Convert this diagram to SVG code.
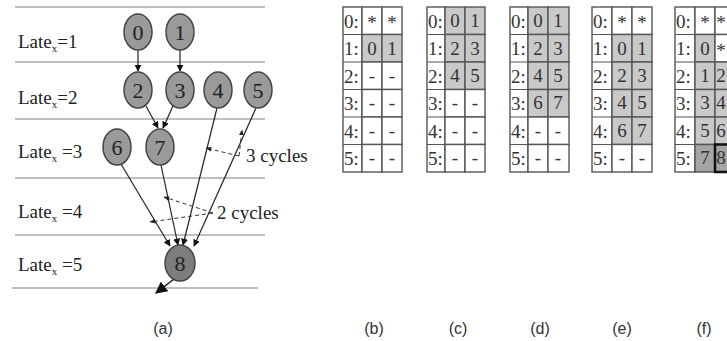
<svg xmlns="http://www.w3.org/2000/svg" width="727" height="341" viewBox="0 0 727 341">
<style>
.lvl{stroke:#aaa;stroke-width:1.5}
.lat{font-family:"Liberation Serif","Times New Roman",serif;font-size:19px;fill:#222}
.sub{font-size:11px}
.nd ellipse{fill:#9a9a9a;stroke:#444;stroke-width:1.5}
.nd text{font-family:"Liberation Serif","Times New Roman",serif;font-size:22px;fill:#222;text-anchor:middle}
.e{stroke:#222;stroke-width:1.2;fill:none;marker-end:url(#ah)}
.d{stroke:#333;stroke-width:1;fill:none;stroke-dasharray:4 3;marker-end:url(#sh)}
.cy{font-family:"Liberation Serif","Times New Roman",serif;font-size:19px;fill:#222}
.cap{font-family:"Liberation Sans",Arial,sans-serif;font-size:16px;fill:#333;text-anchor:middle}
.tb rect{stroke:#555;stroke-width:1.4}
.w{fill:#fff}.g{fill:#c9c9c9}.k{fill:#a5a5a5}
.tb text{font-family:"Liberation Serif","Times New Roman",serif;font-size:19px;fill:#333}
.c{text-anchor:middle}
</style>
<defs>
<marker id="ah" viewBox="0 0 10 10" refX="9" refY="5" markerWidth="7" markerHeight="7" orient="auto" markerUnits="userSpaceOnUse"><path d="M0,0L10,5L0,10z" fill="#111"/></marker>
<marker id="sh" viewBox="0 0 10 10" refX="9" refY="5" markerWidth="6" markerHeight="6" orient="auto" markerUnits="userSpaceOnUse"><path d="M0,1L10,5L0,9z" fill="#222"/></marker>
<marker id="big" viewBox="0 0 10 10" refX="9" refY="5" markerWidth="12" markerHeight="12" orient="auto" markerUnits="userSpaceOnUse"><path d="M0,0L10,5L0,10z" fill="#111"/></marker>
</defs>
<g id="levels">
<line class="lvl" x1="15" y1="7" x2="265" y2="7"/>
<line class="lvl" x1="15" y1="62" x2="265" y2="62"/>
<line class="lvl" x1="15" y1="119" x2="265" y2="119"/>
<line class="lvl" x1="15" y1="178" x2="265" y2="178"/>
<line class="lvl" x1="15" y1="235" x2="265" y2="235"/>
<line class="lvl" x1="12" y1="288" x2="258" y2="288"/>
<text class="lat" x="18" y="48">Late<tspan class="sub" dy="4">x</tspan><tspan dy="-4">=1</tspan></text>
<text class="lat" x="18" y="104">Late<tspan class="sub" dy="4">x</tspan><tspan dy="-4">=2</tspan></text>
<text class="lat" x="18" y="158">Late<tspan class="sub" dy="4">x</tspan><tspan dy="-4"> =3</tspan></text>
<text class="lat" x="18" y="218">Late<tspan class="sub" dy="4">x</tspan><tspan dy="-4"> =4</tspan></text>
<text class="lat" x="18" y="271">Late<tspan class="sub" dy="4">x</tspan><tspan dy="-4"> =5</tspan></text>
</g>
<g id="connectors">
<line class="e" x1="138" y1="50" x2="138" y2="71"/>
<line class="e" x1="180" y1="50" x2="180" y2="71"/>
<line class="e" x1="146" y1="106" x2="158" y2="128"/>
<line class="e" x1="173" y1="106" x2="163" y2="128"/>
<line class="e" x1="121" y1="164" x2="170" y2="246"/>
<line class="e" x1="161" y1="165" x2="178" y2="245"/>
<line class="e" x1="217" y1="108" x2="183" y2="245"/>
<line class="e" x1="256" y1="108" x2="194" y2="246"/>
<line stroke="#111" stroke-width="1.5" x1="174" y1="279" x2="156" y2="293" marker-end="url(#big)"/>
<line class="d" x1="239" y1="156" x2="206" y2="148"/>
<line class="d" x1="239" y1="156" x2="242" y2="130"/>
<line class="d" x1="213" y1="213" x2="164" y2="197"/>
<line class="d" x1="213" y1="213" x2="150" y2="222"/>
<text class="cy" x="246" y="162">3 cycles</text>
<text class="cy" x="217" y="219">2 cycles</text>
</g>
<g id="n0" class="nd"><ellipse cx="138" cy="32" rx="14" ry="18"/><text x="138" y="40">0</text></g>
<g id="n1" class="nd"><ellipse cx="180" cy="32" rx="14" ry="18"/><text x="180" y="40">1</text></g>
<g id="n2" class="nd"><ellipse cx="138" cy="90" rx="14" ry="18"/><text x="138" y="98">2</text></g>
<g id="n3" class="nd"><ellipse cx="180" cy="90" rx="14" ry="18"/><text x="180" y="98">3</text></g>
<g id="n4" class="nd"><ellipse cx="218" cy="90" rx="14" ry="18"/><text x="218" y="98">4</text></g>
<g id="n5" class="nd"><ellipse cx="258" cy="90" rx="14" ry="18"/><text x="258" y="98">5</text></g>
<g id="n6" class="nd"><ellipse cx="117" cy="147" rx="14" ry="18"/><text x="117" y="155">6</text></g>
<g id="n7" class="nd"><ellipse cx="160" cy="147" rx="14" ry="18"/><text x="160" y="155">7</text></g>
<g id="n8" class="nd"><ellipse cx="180" cy="263" rx="15" ry="18" style="fill:#7d7d7d"/><text x="180" y="271">8</text></g>

<g id="tb" class="tb">
<rect class="w" x="343" y="7" width="19" height="165"/>
<rect class="w" x="362" y="7" width="20" height="27.5"/><rect class="w" x="382" y="7" width="20" height="27.5"/>
<rect class="g" x="362" y="34.5" width="20" height="27.5"/><rect class="g" x="382" y="34.5" width="20" height="27.5"/>
<rect class="w" x="362" y="62" width="20" height="27.5"/><rect class="w" x="382" y="62" width="20" height="27.5"/>
<rect class="w" x="362" y="89.5" width="20" height="27.5"/><rect class="w" x="382" y="89.5" width="20" height="27.5"/>
<rect class="w" x="362" y="117" width="20" height="27.5"/><rect class="w" x="382" y="117" width="20" height="27.5"/>
<rect class="w" x="362" y="144.5" width="20" height="27.5"/><rect class="w" x="382" y="144.5" width="20" height="27.5"/>
<line x1="343" y1="34.5" x2="362" y2="34.5" stroke="#555"/><line x1="343" y1="62" x2="362" y2="62" stroke="#555"/><line x1="343" y1="89.5" x2="362" y2="89.5" stroke="#555"/><line x1="343" y1="117" x2="362" y2="117" stroke="#555"/><line x1="343" y1="144.5" x2="362" y2="144.5" stroke="#555"/>
<text x="344" y="28">0:</text><text x="344" y="55">1:</text><text x="344" y="83">2:</text><text x="344" y="110">3:</text><text x="344" y="138">4:</text><text x="344" y="165">5:</text>
<text class="c" x="372" y="29">*</text><text class="c" x="392" y="29">*</text>
<text class="c" x="372" y="55">0</text><text class="c" x="392" y="55">1</text>
<text class="c" x="372" y="82">-</text><text class="c" x="392" y="82">-</text>
<text class="c" x="372" y="109">-</text><text class="c" x="392" y="109">-</text>
<text class="c" x="372" y="137">-</text><text class="c" x="392" y="137">-</text>
<text class="c" x="372" y="164">-</text><text class="c" x="392" y="164">-</text>
</g>

<g id="tc" class="tb">
<rect class="w" x="427" y="7" width="18" height="165"/>
<rect class="g" x="445" y="7" width="20" height="27.5"/><rect class="g" x="465" y="7" width="20" height="27.5"/>
<rect class="g" x="445" y="34.5" width="20" height="27.5"/><rect class="g" x="465" y="34.5" width="20" height="27.5"/>
<rect class="g" x="445" y="62" width="20" height="27.5"/><rect class="g" x="465" y="62" width="20" height="27.5"/>
<rect class="w" x="445" y="89.5" width="20" height="27.5"/><rect class="w" x="465" y="89.5" width="20" height="27.5"/>
<rect class="w" x="445" y="117" width="20" height="27.5"/><rect class="w" x="465" y="117" width="20" height="27.5"/>
<rect class="w" x="445" y="144.5" width="20" height="27.5"/><rect class="w" x="465" y="144.5" width="20" height="27.5"/>
<line x1="427" y1="34.5" x2="445" y2="34.5" stroke="#555"/><line x1="427" y1="62" x2="445" y2="62" stroke="#555"/><line x1="427" y1="89.5" x2="445" y2="89.5" stroke="#555"/><line x1="427" y1="117" x2="445" y2="117" stroke="#555"/><line x1="427" y1="144.5" x2="445" y2="144.5" stroke="#555"/>
<text x="428" y="28">0:</text><text x="428" y="55">1:</text><text x="428" y="83">2:</text><text x="428" y="110">3:</text><text x="428" y="138">4:</text><text x="428" y="165">5:</text>
<text class="c" x="455" y="27">0</text><text class="c" x="475" y="27">1</text>
<text class="c" x="455" y="55">2</text><text class="c" x="475" y="55">3</text>
<text class="c" x="455" y="82">4</text><text class="c" x="475" y="82">5</text>
<text class="c" x="455" y="109">-</text><text class="c" x="475" y="109">-</text>
<text class="c" x="455" y="137">-</text><text class="c" x="475" y="137">-</text>
<text class="c" x="455" y="164">-</text><text class="c" x="475" y="164">-</text>
</g>

<g id="td" class="tb">
<rect class="w" x="510" y="7" width="18" height="165"/>
<rect class="g" x="528" y="7" width="20" height="27.5"/><rect class="g" x="548" y="7" width="21" height="27.5"/>
<rect class="g" x="528" y="34.5" width="20" height="27.5"/><rect class="g" x="548" y="34.5" width="21" height="27.5"/>
<rect class="g" x="528" y="62" width="20" height="27.5"/><rect class="g" x="548" y="62" width="21" height="27.5"/>
<rect class="g" x="528" y="89.5" width="20" height="27.5"/><rect class="g" x="548" y="89.5" width="21" height="27.5"/>
<rect class="w" x="528" y="117" width="20" height="27.5"/><rect class="w" x="548" y="117" width="21" height="27.5"/>
<rect class="w" x="528" y="144.5" width="20" height="27.5"/><rect class="w" x="548" y="144.5" width="21" height="27.5"/>
<line x1="510" y1="34.5" x2="528" y2="34.5" stroke="#555"/><line x1="510" y1="62" x2="528" y2="62" stroke="#555"/><line x1="510" y1="89.5" x2="528" y2="89.5" stroke="#555"/><line x1="510" y1="117" x2="528" y2="117" stroke="#555"/><line x1="510" y1="144.5" x2="528" y2="144.5" stroke="#555"/>
<text x="511" y="28">0:</text><text x="511" y="55">1:</text><text x="511" y="83">2:</text><text x="511" y="110">3:</text><text x="511" y="138">4:</text><text x="511" y="165">5:</text>
<text class="c" x="538" y="27">0</text><text class="c" x="558" y="27">1</text>
<text class="c" x="538" y="55">2</text><text class="c" x="558" y="55">3</text>
<text class="c" x="538" y="82">4</text><text class="c" x="558" y="82">5</text>
<text class="c" x="538" y="109">6</text><text class="c" x="558" y="109">7</text>
<text class="c" x="538" y="137">-</text><text class="c" x="558" y="137">-</text>
<text class="c" x="538" y="164">-</text><text class="c" x="558" y="164">-</text>
</g>

<g id="te" class="tb">
<rect class="w" x="592" y="7" width="20" height="165"/>
<rect class="w" x="612" y="7" width="20" height="27.5"/><rect class="w" x="632" y="7" width="20" height="27.5"/>
<rect class="g" x="612" y="34.5" width="20" height="27.5"/><rect class="g" x="632" y="34.5" width="20" height="27.5"/>
<rect class="g" x="612" y="62" width="20" height="27.5"/><rect class="g" x="632" y="62" width="20" height="27.5"/>
<rect class="g" x="612" y="89.5" width="20" height="27.5"/><rect class="g" x="632" y="89.5" width="20" height="27.5"/>
<rect class="g" x="612" y="117" width="20" height="27.5"/><rect class="g" x="632" y="117" width="20" height="27.5"/>
<rect class="w" x="612" y="144.5" width="20" height="27.5"/><rect class="w" x="632" y="144.5" width="20" height="27.5"/>
<line x1="592" y1="34.5" x2="612" y2="34.5" stroke="#555"/><line x1="592" y1="62" x2="612" y2="62" stroke="#555"/><line x1="592" y1="89.5" x2="612" y2="89.5" stroke="#555"/><line x1="592" y1="117" x2="612" y2="117" stroke="#555"/><line x1="592" y1="144.5" x2="612" y2="144.5" stroke="#555"/>
<text x="593" y="28">0:</text><text x="593" y="55">1:</text><text x="593" y="83">2:</text><text x="593" y="110">3:</text><text x="593" y="138">4:</text><text x="593" y="165">5:</text>
<text class="c" x="622" y="29">*</text><text class="c" x="642" y="29">*</text>
<text class="c" x="622" y="55">0</text><text class="c" x="642" y="55">1</text>
<text class="c" x="622" y="82">2</text><text class="c" x="642" y="82">3</text>
<text class="c" x="622" y="109">4</text><text class="c" x="642" y="109">5</text>
<text class="c" x="622" y="137">6</text><text class="c" x="642" y="137">7</text>
<text class="c" x="622" y="164">-</text><text class="c" x="642" y="164">-</text>
</g>

<g id="tf" class="tb">
<rect class="w" x="675" y="7" width="20" height="165"/>
<rect class="w" x="695" y="7" width="20" height="27.5"/><rect class="w" x="715" y="7" width="20" height="27.5"/>
<rect class="g" x="695" y="34.5" width="20" height="27.5"/><rect class="w" x="715" y="34.5" width="20" height="27.5"/>
<rect class="g" x="695" y="62" width="20" height="27.5"/><rect class="g" x="715" y="62" width="20" height="27.5"/>
<rect class="g" x="695" y="89.5" width="20" height="27.5"/><rect class="g" x="715" y="89.5" width="20" height="27.5"/>
<rect class="g" x="695" y="117" width="20" height="27.5"/><rect class="g" x="715" y="117" width="20" height="27.5"/>
<rect class="k" x="695" y="144.5" width="20" height="27.5"/><rect class="k" x="715" y="144.5" width="20" height="27.5" style="stroke:#111;stroke-width:2.5"/>
<line x1="675" y1="34.5" x2="695" y2="34.5" stroke="#555"/><line x1="675" y1="62" x2="695" y2="62" stroke="#555"/><line x1="675" y1="89.5" x2="695" y2="89.5" stroke="#555"/><line x1="675" y1="117" x2="695" y2="117" stroke="#555"/><line x1="675" y1="144.5" x2="695" y2="144.5" stroke="#555"/>
<text x="676" y="28">0:</text><text x="676" y="55">1:</text><text x="676" y="83">2:</text><text x="676" y="110">3:</text><text x="676" y="138">4:</text><text x="676" y="165">5:</text>
<text class="c" x="705" y="29">*</text><text class="c" x="721" y="29">*</text>
<text class="c" x="705" y="55">0</text><text class="c" x="721" y="57">*</text>
<text class="c" x="705" y="82">1</text><text class="c" x="721" y="82">2</text>
<text class="c" x="705" y="109">3</text><text class="c" x="721" y="109">4</text>
<text class="c" x="705" y="137">5</text><text class="c" x="721" y="137">6</text>
<text class="c" x="705" y="164">7</text><text class="c" x="721" y="164">8</text>
</g>

<g id="captions">
<text class="cap" x="163" y="334">(a)</text>
<text class="cap" x="374" y="334">(b)</text>
<text class="cap" x="458" y="334">(c)</text>
<text class="cap" x="540" y="334">(d)</text>
<text class="cap" x="622" y="334">(e)</text>
<text class="cap" x="704" y="334">(f)</text>
</g>
</svg>
